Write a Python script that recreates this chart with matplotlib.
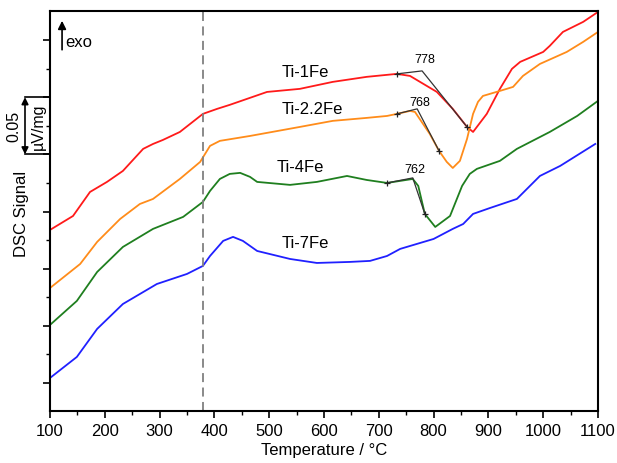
import matplotlib
matplotlib.use("Agg")
import matplotlib.pyplot as plt

plt.rcParams['font.family'] = ['Liberation Sans', 'DejaVu Sans']

# ---- data (temperature in degC, DSC signal in uV/mg, offset per curve) ----
t_1fe = [100, 142, 173, 204, 233, 270, 288, 306, 337, 379, 405, 428, 496, 556, 616, 678,
         733, 757, 806, 835, 861, 872, 897, 921, 943, 958, 1000, 1012, 1036, 1073, 1100]
s_1fe = [0.1339, 0.1461, 0.1671, 0.1759, 0.1855, 0.2048, 0.2091, 0.2126, 0.2196, 0.2354,
         0.2398, 0.2433, 0.2546, 0.2573, 0.2634, 0.2678, 0.2704, 0.2686, 0.2546, 0.2398,
         0.2240, 0.2196, 0.2354, 0.2573, 0.2748, 0.2809, 0.2896, 0.2949, 0.3071, 0.3159, 0.3246]

t_22fe = [100, 155, 186, 228, 264, 288, 337, 374, 392, 410, 465, 556, 616, 678, 715, 733,
          757, 766, 793, 810, 824, 835, 848, 861, 872, 881, 890, 921, 945, 963, 994, 1043,
          1073, 1100]
s_22fe = [0.0831, 0.1041, 0.1234, 0.1435, 0.1566, 0.1610, 0.1785, 0.1934, 0.2074, 0.2118,
          0.2161, 0.2240, 0.2293, 0.2319, 0.2336, 0.2354, 0.2380, 0.2371, 0.2179, 0.2030,
          0.1934, 0.1881, 0.1943, 0.2135, 0.2354, 0.2459, 0.2511, 0.2555, 0.2590, 0.2686,
          0.2791, 0.2896, 0.2984, 0.3071]

t_4fe = [100, 149, 186, 233, 288, 343, 379, 392, 410, 428, 447, 465, 478, 538, 587, 642,
         678, 715, 762, 772, 784, 803, 830, 852, 866, 879, 921, 952, 1012, 1062, 1100]
s_4fe = [0.0508, 0.0718, 0.0971, 0.1190, 0.1348, 0.1453, 0.1584, 0.1680, 0.1785, 0.1829,
         0.1838, 0.1803, 0.1759, 0.1733, 0.1759, 0.1811, 0.1776, 0.1750, 0.1785, 0.1724,
         0.1479, 0.1365, 0.1461, 0.1724, 0.1829, 0.1873, 0.1943, 0.2048, 0.2196, 0.2336, 0.2468]

t_7fe = [100, 149, 186, 233, 295, 350, 379, 392, 416, 434, 452, 478, 538, 587, 647, 684,
         715, 739, 800, 835, 854, 872, 903, 952, 994, 1031, 1095]
s_7fe = [0.0044, 0.0228, 0.0473, 0.0691, 0.0866, 0.0954, 0.1024, 0.1111, 0.1243, 0.1278,
         0.1243, 0.1155, 0.1085, 0.1050, 0.1059, 0.1068, 0.1111, 0.1173, 0.1260, 0.1348,
         0.1391, 0.1479, 0.1531, 0.1610, 0.1811, 0.1899, 0.2091]

names = ["Ti-1Fe", "Ti-2.2Fe", "Ti-4Fe", "Ti-7Fe"]
colors = ["#ff1a1a", "#ff8c1a", "#1f7f1f", "#2020ff"]
name_x = [566, 579, 556, 565]
name_y = [0.2721, 0.2398, 0.1890, 0.1225]

# onset tangent constructions
onset_labels = ["778", "768", "762"]
onset_start_t = [733, 733, 715]
onset_start_s = [0.2704, 0.2354, 0.1750]
onset_t = [779, 770, 762]
onset_s = [0.2730, 0.2398, 0.1794]
onset_end_t = [861, 810, 784]
onset_end_s = [0.2240, 0.2030, 0.1479]
onset_lab_s = [0.2835, 0.2459, 0.1873]

vline_t = 380
xticks = list(range(100, 1101, 100))

fig = plt.figure(figsize=(6.17, 4.64), dpi=100)
ax = fig.add_axes([50/617, 52/464, 548/617, 400/464])

for t, s, c in zip([t_1fe, t_22fe, t_4fe, t_7fe], [s_1fe, s_22fe, s_4fe, s_7fe], colors):
    ax.plot(t, s, color=c, lw=1.3, solid_joinstyle='round')

for n, x, y in zip(names, name_x, name_y):
    ax.text(x, y, n, fontsize=12, ha='center', va='center')

for i in range(3):
    ax.plot([onset_start_t[i], onset_t[i], onset_end_t[i]],
            [onset_start_s[i], onset_s[i], onset_end_s[i]],
            color='#333333', lw=0.9)
    ax.plot([onset_start_t[i], onset_end_t[i]], [onset_start_s[i], onset_end_s[i]],
            ls='none', marker='+', color='#222222', ms=5, mew=0.9)
    ax.text(onset_t[i] + 4, onset_lab_s[i], onset_labels[i], fontsize=9, ha='center', va='center')

ax.axvline(vline_t, color='#808080', lw=1.3, ls=(0, (5, 3)))

ax.set_xlim(100, 1100)
ax.set_ylim(-0.0245, 0.3254)
ax.set_xticks(xticks)
ax.set_xticks(range(150, 1100, 100), minor=True)
ax.set_yticks([0, 0.05, 0.10, 0.15, 0.20, 0.25, 0.30])
ax.set_yticks([0.025, 0.075, 0.125, 0.175, 0.225, 0.275], minor=True)
ax.set_yticklabels([])
ax.tick_params(axis='both', which='major', direction='out', length=5, width=1.2, labelsize=12)
ax.tick_params(axis='both', which='minor', direction='out', length=3, width=1.0)
for sp in ax.spines.values():
    sp.set_linewidth(1.5)
ax.set_xlabel("Temperature / °C", fontsize=12, labelpad=3)

trans = ax.get_yaxis_transform()
ax.text(-28/548, 0.1485, "DSC Signal", rotation=90, fontsize=12, ha='center', va='center',
        transform=trans)

# exo arrow
ax.annotate("", xy=(122, 0.3168), xytext=(122, 0.2915), xycoords='data',
            arrowprops=dict(arrowstyle='-|>', color='black', lw=1.2, mutation_scale=12,
                            shrinkA=0, shrinkB=0))
ax.text(128, 0.2985, "exo", fontsize=12, ha='left', va='center')

# scale bar 0.05 uV/mg (outside axes to the left)
xb = -25/548
ax.annotate("", xy=(xb, 0.25), xytext=(xb, 0.20), xycoords=trans, textcoords=trans,
            arrowprops=dict(arrowstyle='<|-|>', color='black', lw=1.2, mutation_scale=10,
                            shrinkA=0, shrinkB=0), annotation_clip=False)
ax.plot([xb, 0], [0.25, 0.25], color='black', lw=1.2, transform=trans, clip_on=False)
ax.plot([xb, 0], [0.20, 0.20], color='black', lw=1.2, transform=trans, clip_on=False)
ax.text(-36/548, 0.225, "0.05", rotation=90, fontsize=11.5, ha='center', va='center',
        transform=trans)
ax.text(-12/548, 0.225, "µV/mg", rotation=90, fontsize=11.5, ha='center', va='center',
        transform=trans)

fig.savefig("out.png", dpi=100)
